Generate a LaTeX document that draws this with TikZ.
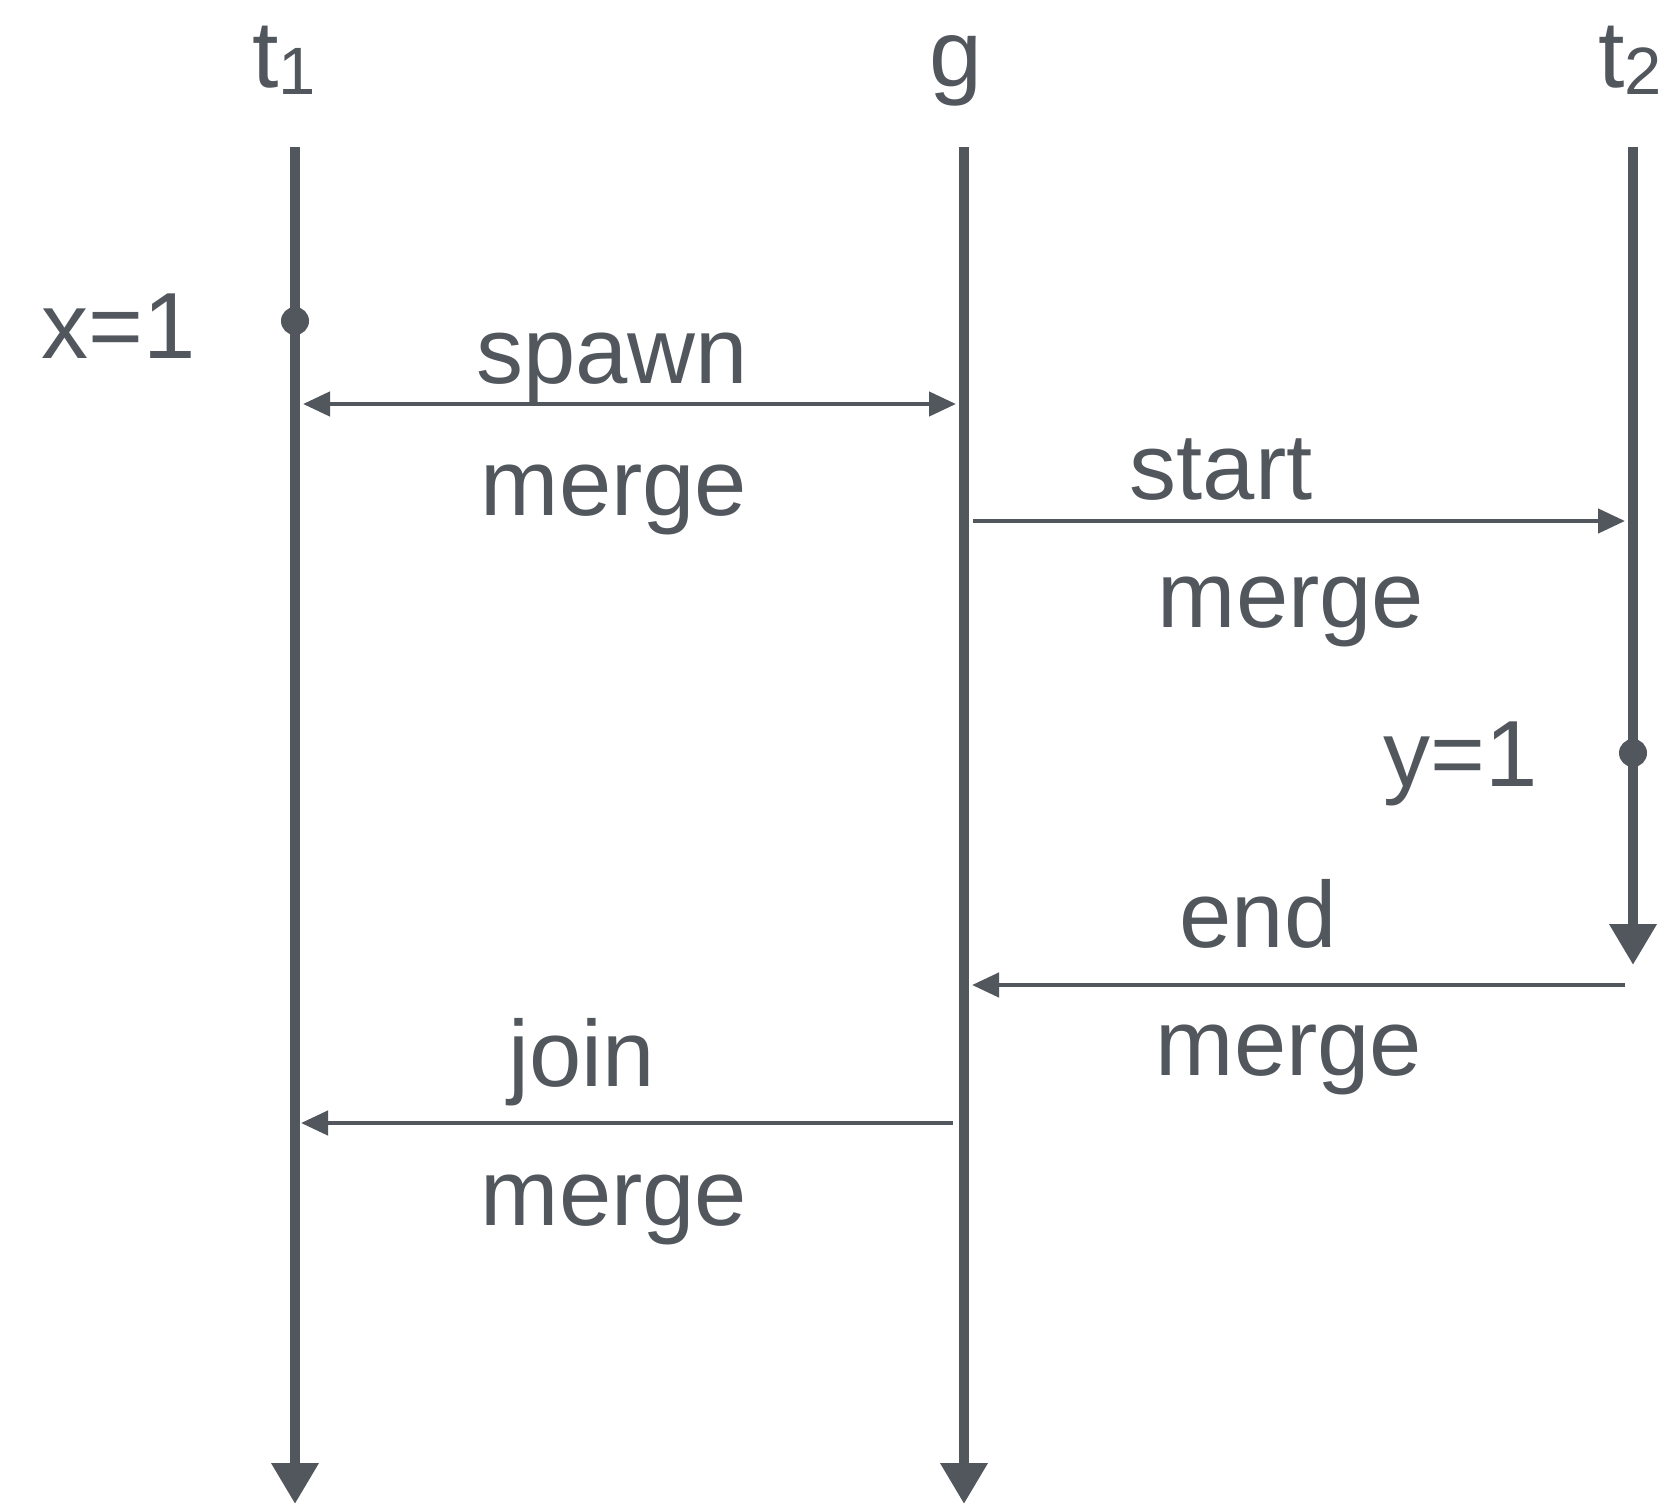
\documentclass[tikz,border=0pt]{standalone}
\usepackage{fontspec}
\setmainfont{Liberation Sans}
\usetikzlibrary{arrows.meta}
\definecolor{ink}{RGB}{82,87,94}
\tikzset{
  lifeline/.style={draw=ink, line width=10pt, -{Triangle[length=41pt,width=45pt]}},
  msg/.style={draw=ink, line width=4.5pt},
  mtip/.tip={Triangle[length=27pt,width=24pt]},
  lbl/.style={font=\fontsize{94}{100}\selectfont, text=ink, inner sep=0pt, anchor=base},
  head/.style={font=\fontsize{95}{100}\selectfont, text=ink, inner sep=0pt, anchor=base},
  evdot/.style={fill=ink, draw=none, circle, minimum size=28pt, inner sep=0pt}
}
\newcommand{\subs}[1]{\raisebox{-7pt}{\fontsize{67}{70}\selectfont #1}}
\begin{document}
\begin{tikzpicture}[x=1pt,y=-1pt]
\useasboundingbox (0,0) rectangle (1666,1504);
% lifeline heads
\node[head] (lt1) at (284,88) {t\subs{1}};
\node[head] (lg) at (956,86) {g};
\node[head] (lt2) at (1630,88) {t\subs{2}};
% lifeline coordinates
\coordinate (t1top) at (295,147);
\coordinate (t1bot) at (295,1504);
\coordinate (gtop) at (964,147);
\coordinate (gbot) at (964,1504);
\coordinate (t2top) at (1633,147);
\coordinate (t2bot) at (1633,965);
\draw[lifeline] (t1top) -- (t1bot);
\draw[lifeline] (gtop) -- (gbot);
\draw[lifeline] (t2top) -- (t2bot);
% events
\node[evdot] (dx) at (295,321) {};
\node[evdot] (dy) at (1633,753) {};
\node[lbl] (lx) at (119,358) {x=1};
\node[lbl] (ly) at (1461,786) {y=1};
% message endpoints
\coordinate (sp1) at (303,404);
\coordinate (sp2) at (956,404);
\coordinate (st1) at (973,521);
\coordinate (st2) at (1625,521);
\coordinate (en1) at (1625,985);
\coordinate (en2) at (972,985);
\coordinate (jo1) at (953,1123);
\coordinate (jo2) at (301,1123);
\draw[msg, mtip-mtip] (sp1) -- (sp2);
\draw[msg, -mtip] (st1) -- (st2);
\draw[msg, -mtip] (en1) -- (en2);
\draw[msg, -mtip] (jo1) -- (jo2);
% message labels
\node[lbl] (lspawn) at (612,383) {spawn};
\node[lbl] (lm1) at (614,515) {merge};
\node[lbl] (lstart) at (1221,499) {start};
\node[lbl] (lm2) at (1291,627) {merge};
\node[lbl] (lend) at (1258,947) {end};
\node[lbl] (lm3) at (1289,1075) {merge};
\node[lbl] (ljoin) at (582,1086) {join};
\node[lbl] (lm4) at (614,1225) {merge};
\end{tikzpicture}
\end{document}
